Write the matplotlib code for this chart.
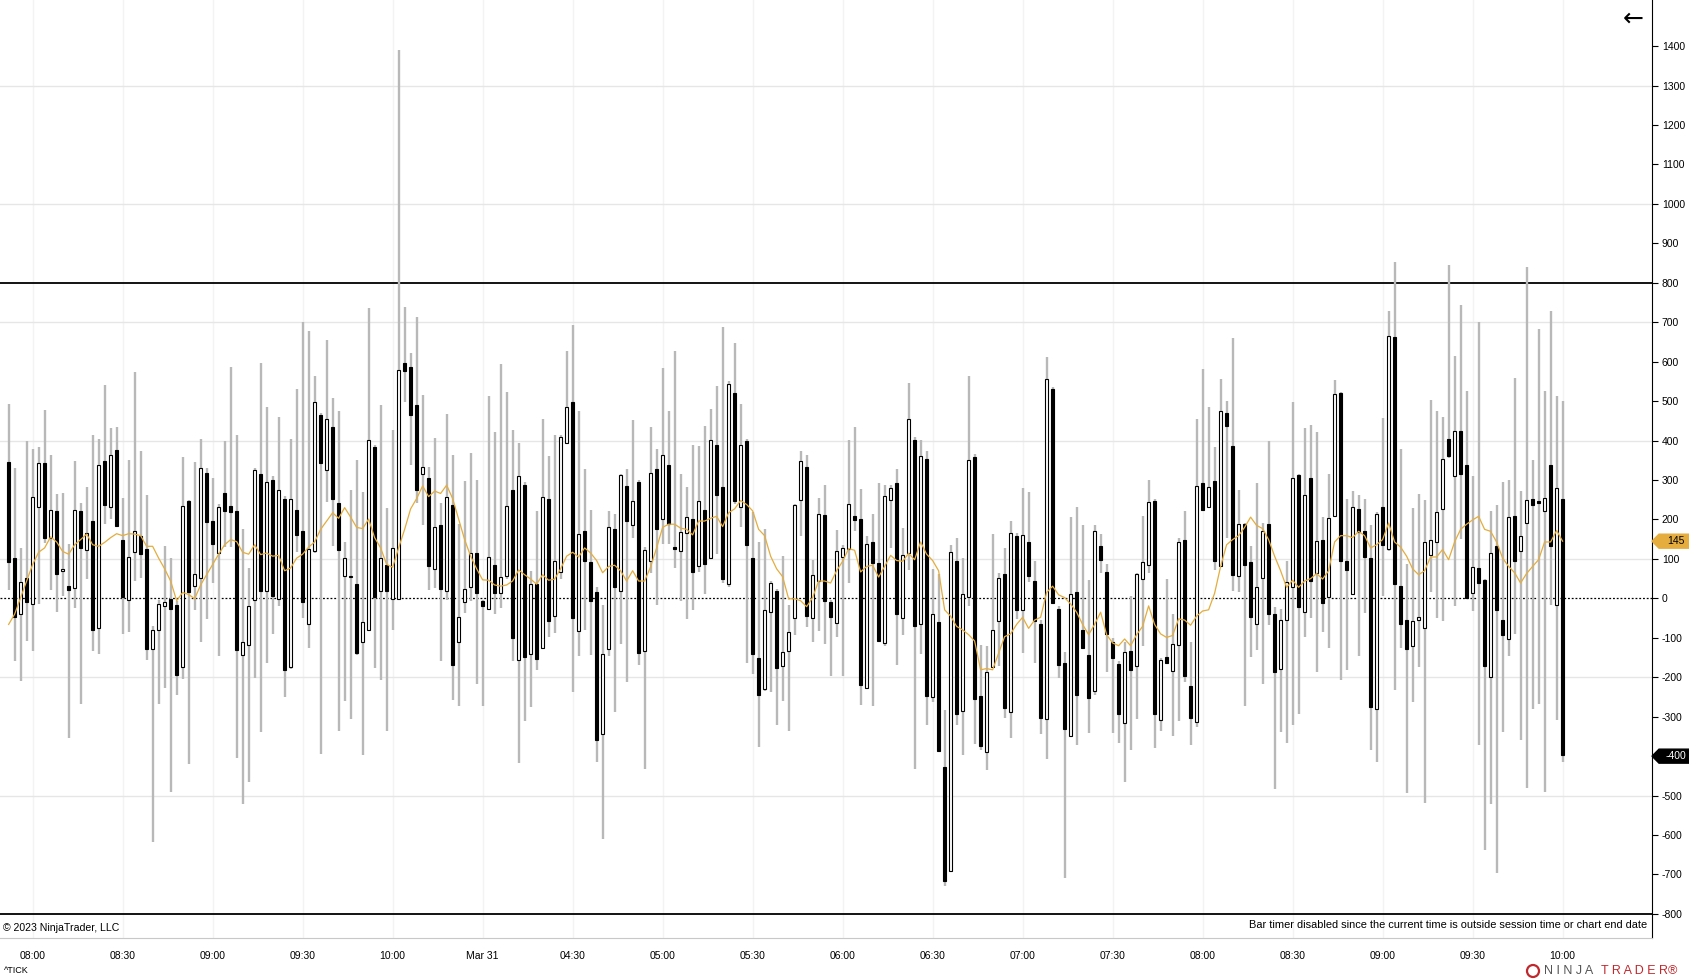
import numpy as np
import matplotlib
matplotlib.use('Agg')
import matplotlib.pyplot as plt
from matplotlib.patches import Polygon, Circle
from matplotlib.transforms import IdentityTransform

plt.rcParams['font.family'] = ['Liberation Sans', 'DejaVu Sans']

# 2 minute bars of ^TICK
opens = [345, 102, -39, 51, -15, 232, 342, 152, 222, 69, 31, 26, 222, 122, 197, -75, 348, 232, 376, 149, -5, 118,
         159, 124, -129, -80, -20, -1, -18, -175, 248, 31, 51, 319, 197, 115, 267, 233, 222, -144, -119, -5, 316,
         19, 300, -1, 251, -175, 224, 171, -66, 120, 464, 325, 434, 243, 58, 55, 36, -111, -79, 384, 19, 84, -1,
         -1, 596, 586, 489, 315, 306, 74, 186, 19, 237, -111, -8, 30, 115, -7, -26, 85, 14, 58, 274, -157, 288,
         -142, 36, -127, 253, -44, 68, 393, 499, -82, 171, 91, 17, -344, -129, 176, 19, 285, 186, 294, -133, 95,
         328, 202, 337, 129, 121, 165, 200, 83, 224, 103, 388, 283, 36, 520, 231, 398, 102, -152, -230, -35, 18, -172,
         -133, -51, 249, 334, -51, 45, 211, -8, -62, 105, 126, 209, 200, -227, 142, 89, -114, 250, 293, -50, 116, 401,
         -64, 353, -250, -60, -427, -692, 96, -286, 4, 359, -248, -389, -173, -57, 62, -289, 157, -29, 144, 43, -65, -305,
         531, -27, -165, -349, 15, -79, -143, -236, 133, 66, -110, -166, -317, -133, -171, 49, 85, 248, -308, -148, -183, -118,
         148, -222, -314, 292, 232, 297, 83, 470, 386, 57, 188, 91, -65, 52, 188, -40, -178, -55, 28, 313, -34, 306,
         65, 149, 4, 208, 520, 96, 10, 226, 171, 102, -281, 231, 124, 663, 31, -55, -120, -54, -74, 110, 143, 226,
         405, 309, 424, 339, 14, 77, 47, -200, 132, -55, -104, 208, 121, 192, 252, 247, 222, 339, -16, 253]
highs = [494, 330, 128, 398, 379, 385, 477, 363, 264, 268, 138, 348, 243, 282, 414, 405, 540, 431, 434, 255, 350, 574,
         373, 261, -70, -4, 134, 102, -7, 359, 250, 347, 404, 330, 306, 240, 400, 586, 415, 177, 76, 330, 597,
         486, 310, 459, 260, 404, 531, 701, 677, 564, 470, 656, 508, 475, 143, 275, 350, 270, 735, 390, 489, 228, 428,
         1390, 738, 622, 713, 515, 334, 406, 243, 467, 364, 188, 298, 369, 300, -5, 513, 423, 593, 524, 428, 395, 295,
         70, 222, 454, 360, 414, 415, 626, 692, 475, 329, 225, 30, -17, 222, 214, 315, 329, 451, 300, 130, 434,
         379, 585, 475, 627, 315, 282, 389, 387, 437, 481, 539, 688, 550, 647, 493, 405, 219, 143, 175, 45, 25, 107,
         -16, 240, 374, 364, 98, 255, 287, -5, 173, 136, 402, 435, 277, 157, 214, 293, 288, 288, 329, 179, 547, 410,
         402, 374, 75, 61, -282, 136, 154, 102, 565, 365, -118, -121, 164, 65, 128, 196, 165, 281, 270, 96, -55, 611,
         535, -20, -136, 206, 231, 186, 47, 185, 163, 86, -100, -160, -111, 5, 65, 208, 299, 251, -150, 48, -40, 152,
         222, -111, 454, 582, 486, 384, 556, 500, 661, 274, 190, 132, 292, 191, 398, -21, -27, 96, 499, 316, 431, 440,
         421, 206, 315, 553, 523, 252, 273, 263, 253, 187, 218, 458, 729, 852, 378, 86, 229, 265, 250, 503, 475, 460,
         846, 614, 744, 526, 311, 701, 50, 221, 238, 294, 300, 558, 273, 840, 351, 682, 526, 728, 513, 500]
lows = [21, -160, -210, -109, -134, -14, 141, 21, -35, 7, -354, -24, -267, 49, -134, -142, 188, 201, 184, -90, -84, 45,
        51, -155, -618, -267, -227, -490, -244, -204, -419, -29, -111, -52, 38, -147, 131, 131, -404, -522, -466, -201, -340,
        -165, -90, -19, -251, -180, 117, -50, -127, 115, -394, 245, 132, -336, -259, -305, -144, -398, -79, -176, -207, -337, -80,
        -5, 497, 339, 243, 185, 21, 26, -160, -3, -258, -274, -36, -6, -218, -274, -26, -40, -25, 50, -160, -417, -312,
        -276, -182, -127, -98, -87, 50, 393, -237, -147, -80, -144, -415, -610, -147, -288, -115, -211, 154, -168, -433, 65,
        -17, 137, 137, 76, -6, -53, -29, 68, 10, 100, 112, 40, 30, 240, 180, -163, -192, -378, -235, -237, -322, -260,
        -335, -94, 159, -73, -111, -82, -115, -196, -99, -197, 39, 170, -271, -227, -272, -107, -120, 128, -169, -94, 72, -432,
        -140, -322, -263, -388, -729, -692, -320, -398, -19, -370, -385, -436, -173, -171, -302, -354, -53, -139, 41, -165, -343, -408,
        -15, -203, -708, -349, -371, -126, -341, -246, 64, -186, -342, -366, -465, -385, -305, -121, 65, -380, -337, -164, -348, -312,
        -211, -372, -326, 224, 232, 73, 83, 153, 19, 17, -274, -148, -130, -217, -67, -484, -340, -367, -321, -294, -97, -50,
        -186, -85, -126, 208, -207, -181, 10, -147, -37, -384, -414, 7, 120, -233, -126, -493, -262, -173, -518, 15, -50, -57,
        355, -19, 150, 0, -32, -372, -637, -521, -697, -340, -147, -90, -360, -480, -281, -267, -491, -16, -308, -415]
closes = [91, -47, 41, -8, 256, 343, 153, 224, 63, 74, 21, 224, 128, 165, -79, 337, 236, 364, 184, 4, 105, 171,
          112, -128, -81, -15, -8, -28, -194, 233, 16, 61, 330, 194, 137, 231, 221, 218, -131, -111, -20, 325, 19,
          294, 6, 275, -181, 253, 160, -9, 126, 499, 343, 456, 251, 122, 103, 55, -138, -61, 401, 4, 103, 19, 128,
          578, 577, 466, 274, 334, 82, 181, 24, 258, -168, -48, 24, 116, 14, -19, 104, 14, 55, 233, -100, 309, -148,
          36, -153, 256, -57, 95, 409, 486, -49, 163, 96, -6, -358, -142, 182, 28, 313, 196, 247, -138, 122, 318,
          176, 364, 188, 126, 168, 206, 66, 247, 88, 401, 263, 48, 544, 248, 388, 135, -142, -244, -30, 38, -176, -136,
          -85, 236, 349, -45, 60, 215, -6, -47, 120, 127, 239, 198, -219, 137, 89, -107, 260, 280, -39, 110, 456, -71,
          360, -247, -40, -388, -717, 118, -294, 10, 350, -254, -375, -187, -79, 52, -277, 165, -29, 161, 57, -57, -302, 557,
          -12, -170, -332, 12, -245, -126, -252, 171, 97, -90, -152, -293, -136, -181, 63, 92, 245, -294, -157, -164, -116, 143,
          -196, -302, 285, 224, 283, 94, 474, 437, 60, 188, 85, -47, 29, 172, -39, -186, -55, 41, 305, -21, 262, 44,
          146, -12, 203, 517, 94, 73, 232, 168, 105, -275, 215, 136, 666, 36, -65, -129, -57, -46, 143, 149, 220, 354,
          362, 424, 315, 0, 80, 39, -172, 115, -30, -92, 206, 96, 159, 250, 237, 242, 254, 134, 279, -398]
ma = [-66, -40, 2, 44, 86, 117, 128, 156, 143, 119, 112, 136, 149, 163, 136, 132, 142, 154, 164, 159, 164, 163,
      159, 132, 132, 102, 75, 44, -6, 15, 10, -1, 34, 60, 86, 112, 136, 149, 144, 117, 112, 136, 111,
      115, 107, 109, 70, 77, 102, 112, 130, 143, 175, 196, 217, 203, 230, 206, 180, 177, 201, 154, 128, 86, 79,
      128, 175, 227, 253, 285, 258, 272, 266, 287, 253, 201, 149, 107, 75, 47, 46, 34, 31, 34, 44, 72, 60,
      49, 36, 60, 46, 49, 75, 107, 117, 105, 128, 115, 96, 65, 81, 84, 70, 44, 70, 44, 44, 80,
      128, 180, 188, 188, 178, 175, 161, 196, 196, 203, 208, 182, 217, 227, 248, 238, 222, 175, 159, 107, 75, 55,
      -1, -1, -6, -21, 2, 44, 44, 39, 70, 94, 126, 122, 67, 81, 84, 54, 81, 109, 96, 94, 114, 98,
      143, 112, 96, 70, -29, -45, -71, -80, -92, -108, -181, -178, -181, -139, -97, -90, -66, -48, -76, -55, -48, 15,
      31, 9, 2, -14, -35, -66, -92, -66, -35, -92, -113, -120, -103, -120, -92, -71, -19, -66, -90, -99, -94, -52,
      -55, -68, -45, -32, -29, 13, 81, 136, 149, 159, 180, 206, 185, 177, 149, 107, 70, 28, 46, 28, 44, 50,
      63, 49, 70, 143, 159, 159, 154, 170, 159, 128, 136, 149, 191, 143, 130, 107, 75, 60, 70, 105, 105, 124,
      98, 143, 175, 188, 199, 208, 175, 170, 143, 102, 81, 65, 39, 63, 81, 98, 143, 143, 172, 145]

tick_pos = [4, 19, 34, 49, 64, 79, 94, 109, 124, 139, 154, 169, 184, 199, 214, 229, 244, 259]
tick_lbl = ['08:00', '08:30', '09:00', '09:30', '10:00', 'Mar 31', '04:30', '05:00', '05:30', '06:00',
            '06:30', '07:00', '07:30', '08:00', '08:30', '09:00', '09:30', '10:00']
ma_last = 145
close_last = -400

o = np.array(opens); h = np.array(highs); l = np.array(lows); c = np.array(closes)
x = np.arange(len(o))
up = c >= o

fig = plt.figure(figsize=(16.9, 9.8), dpi=100)
ax = fig.add_axes([0, 1 - 938 / 980, 1652 / 1690, 938 / 980])
ax.set_xlim(-1.44, 273.9)
ax.set_ylim(-861, 1517)

# grid
for t in tick_pos:
    ax.axvline(t, color='#f3f3f3', lw=1, zorder=0)
for g in range(-500, 1400, 300):
    ax.axhline(g, color='#e6e6e6', lw=1, zorder=0)

ax.axhline(800, color='black', lw=1.3, zorder=1)
ax.axhline(-800, color='black', lw=1.3, zorder=1)
ax.axhline(0, color='black', lw=0.9, ls=(0, (1.5, 1.5)), zorder=1)

# candles
ax.vlines(x, l, h, color='#b8b8b8', lw=1.7, zorder=2)
body_lo = np.minimum(o, c)
body_h = np.maximum(np.abs(c - o), 3)
ax.bar(x[up], body_h[up], bottom=body_lo[up], width=0.62, color='white', edgecolor='black', lw=0.8, zorder=3)
ax.bar(x[~up], body_h[~up], bottom=body_lo[~up], width=0.62, color='black', edgecolor='black', lw=0.8, zorder=3)

ax.plot(x, ma, color='#e4ad3e', lw=0.9, zorder=4)

# axes
for s in ['top', 'left']:
    ax.spines[s].set_visible(False)
ax.spines['bottom'].set_color('#c8c8c8')
ax.spines['right'].set_color('black')
ax.yaxis.tick_right()
yt = list(range(-800, 1500, 100))
ax.set_yticks(yt)
ax.set_yticklabels(['' if v == close_last else str(v) for v in yt])
ax.tick_params(axis='y', length=4, width=0.8, labelsize=7.5, pad=3)
ax.set_xticks(tick_pos)
ax.set_xticklabels(tick_lbl)
ax.tick_params(axis='x', length=0, labelsize=7.5, pad=9)

# price markers on the right axis
fig.canvas.draw()
def marker(val, face, txtcol):
    yp = ax.transData.transform((0, val))[1]
    xp = ax.transAxes.transform((1, 0))[0]
    pts = [(xp, yp), (xp + 7, yp + 7), (xp + 40, yp + 7), (xp + 40, yp - 7), (xp + 7, yp - 7)]
    fig.add_artist(Polygon(pts, closed=True, facecolor=face, edgecolor=face, transform=IdentityTransform()))
    fig.text((xp + 24) / 1690, yp / 980, str(val), color=txtcol, fontsize=7.5, ha='center', va='center')

marker(ma_last, '#e4ad3e', 'black')
marker(close_last, 'black', 'white')

fig.text(1633 / 1690, 1 - 19 / 980, '\u2190', fontsize=18, ha='center', va='center', family='DejaVu Sans')
fig.text(3 / 1690, 1 - 928 / 980, '\u00a9 2023 NinjaTrader, LLC', fontsize=7.6, va='center')
fig.text(1647 / 1690, 1 - 925 / 980, 'Bar timer disabled since the current time is outside session time or chart end date',
         fontsize=7.9, ha='right', va='center')
fig.text(4 / 1690, 1 - 970 / 980, '^TICK', fontsize=6.5, va='center')

# NinjaTrader logo
fig.add_artist(Circle((1533, 980 - 971), 6, facecolor='none', edgecolor='#c0282d', lw=1.6, transform=IdentityTransform()))
fig.text(1544 / 1690, 1 - 971 / 980, 'N I N J A', fontsize=9, va='center', color='#555555')
fig.text(1601 / 1690, 1 - 971 / 980, 'T R A D E R\u00ae', fontsize=9, va='center', color='#c0282d')

fig.savefig('out.png', dpi=100)
